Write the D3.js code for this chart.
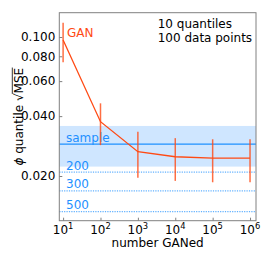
<!DOCTYPE html>
<html>
<head>
<meta charset="utf-8">
<script src="https://cdn.jsdelivr.net/npm/d3@7"></script>
<style>
  html, body { margin: 0; padding: 0; background: #fff; }
  svg { display: block; font-family: "DejaVu Sans", sans-serif; }
</style>
</head>
<body>
<script>
'use strict';

// data
var ganedCounts = [1e1, 1e2, 1e3, 1e4, 1e5, 1e6];
var ganMean = [0.0966, 0.0375, 0.0265, 0.0250, 0.0246, 0.0246];
var ganLow = [0.0746, 0.0286, 0.0196, 0.0189, 0.0186, 0.0186];
var ganHigh = [0.1180, 0.0464, 0.0334, 0.0310, 0.0306, 0.0306];

var sampleValue = 0.0289;
var sampleBand = [0.0223, 0.0357];
var sizeLines = [
  { label: '200', value: 0.0209 },
  { label: '300', value: 0.01683 },
  { label: '500', value: 0.01324 }
];

var yTicks = [0.02, 0.04, 0.06, 0.08, 0.1];
var xTickExp = [1, 2, 3, 4, 5, 6];

var W = 270, H = 270,
    margin = { left: 59.3, top: 12.7, right: 14, bottom: 49.3 },
    orange = '#ff4a14',
    blue = '#1e90ff',
    fs = 12;

var svg = d3.select('body').append('svg')
  .attr('width', W)
  .attr('height', H);

var x = d3.scaleLog()
  .domain([Math.pow(10, 0.8983), Math.pow(10, 6.1594)])
  .range([margin.left, W - margin.right]);

var y = d3.scaleLog()
  .domain([0.01192, 0.1325])
  .range([H - margin.bottom, margin.top]);

var plot = svg.append('g');

// sample band and line
plot.append('rect')
  .attr('x', x.range()[0])
  .attr('width', x.range()[1] - x.range()[0])
  .attr('y', y(sampleBand[1]))
  .attr('height', y(sampleBand[0]) - y(sampleBand[1]))
  .style('fill', '#cfe6ff');

plot.append('line')
  .attr('x1', x.range()[0]).attr('x2', x.range()[1])
  .attr('y1', y(sampleValue)).attr('y2', y(sampleValue))
  .style('stroke', blue)
  .style('stroke-width', 1.2);

plot.append('text')
  .attr('x', 66)
  .attr('y', y(sampleValue) - 2.5)
  .style('font-size', fs + 'px')
  .style('fill', blue)
  .text('sample');

plot.selectAll('.size-line').data(sizeLines).enter().append('line')
  .attr('class', 'size-line')
  .attr('x1', x.range()[0]).attr('x2', x.range()[1])
  .attr('y1', function(d) { return y(d.value); })
  .attr('y2', function(d) { return y(d.value); })
  .style('stroke', blue)
  .style('stroke-opacity', 0.7)
  .style('stroke-width', 1.2)
  .style('stroke-dasharray', '1.2,1.2');

plot.selectAll('.size-label').data(sizeLines).enter().append('text')
  .attr('class', 'size-label')
  .attr('x', 66)
  .attr('y', function(d) { return y(d.value) - 2.5; })
  .style('font-size', fs + 'px')
  .style('fill', blue)
  .text(function(d) { return d.label; });

// GAN curve with error bars
var pts = ganedCounts.map(function(c, i) {
  return { n: c, m: ganMean[i], lo: ganLow[i], hi: ganHigh[i] };
});

plot.append('path')
  .datum(pts)
  .attr('d', d3.line()
    .x(function(d) { return x(d.n); })
    .y(function(d) { return y(d.m); }))
  .style('fill', 'none')
  .style('stroke', orange)
  .style('stroke-width', 1.3);

plot.selectAll('.err').data(pts).enter().append('line')
  .attr('class', 'err')
  .attr('x1', function(d) { return x(d.n); })
  .attr('x2', function(d) { return x(d.n); })
  .attr('y1', function(d) { return y(d.lo); })
  .attr('y2', function(d) { return y(d.hi); })
  .style('stroke', orange)
  .style('stroke-opacity', 0.8)
  .style('stroke-width', 1.5);

plot.append('text')
  .attr('x', 67)
  .attr('y', 37)
  .style('font-size', fs + 'px')
  .style('fill', orange)
  .text('GAN');

// annotations
svg.append('text')
  .attr('x', 157.7).attr('y', 28.3)
  .style('font-size', fs + 'px')
  .text('10 quantiles');
svg.append('text')
  .attr('x', 157.7).attr('y', 41.7)
  .style('font-size', fs + 'px')
  .text('100 data points');

// frame
svg.append('rect')
  .attr('x', x.range()[0])
  .attr('y', y.range()[1])
  .attr('width', x.range()[1] - x.range()[0])
  .attr('height', y.range()[0] - y.range()[1])
  .style('fill', 'none')
  .style('stroke', '#808080')
  .style('stroke-width', 1);

// y axis
var yAxis = svg.append('g')
  .attr('transform', 'translate(' + x.range()[0] + ',0)')
  .call(d3.axisLeft(y).tickValues(yTicks).tickFormat(d3.format('.3f')).tickSize(-3).tickPadding(4));
yAxis.select('.domain').remove();
yAxis.selectAll('.tick line').style('stroke', '#808080');
yAxis.selectAll('.tick text')
  .style('font-family', '"DejaVu Sans", sans-serif')
  .style('font-size', fs + 'px')
  .style('fill', '#000');

// x axis
var xAxis = svg.append('g')
  .attr('transform', 'translate(0,' + y.range()[0] + ')')
  .call(d3.axisBottom(x).tickValues(xTickExp.map(function(e) { return Math.pow(10, e); }))
    .tickFormat('').tickSize(-3));
xAxis.select('.domain').remove();
xAxis.selectAll('.tick line').style('stroke', '#808080');

var xLabels = svg.selectAll('.xlab').data(xTickExp).enter().append('text')
  .attr('class', 'xlab')
  .attr('x', function(e) { return x(Math.pow(10, e)); })
  .attr('y', 234)
  .attr('text-anchor', 'middle')
  .style('font-size', fs + 'px');
xLabels.append('tspan').text('10');
xLabels.append('tspan')
  .attr('dy', -5)
  .style('font-size', '8.4px')
  .text(function(e) { return e; });

svg.append('text')
  .attr('x', (x.range()[0] + x.range()[1]) / 2)
  .attr('y', 247)
  .attr('text-anchor', 'middle')
  .style('font-size', fs + 'px')
  .text('number GANed');

// y label with square root
var ylab = svg.append('text')
  .attr('transform', 'translate(23,' + ((y.range()[0] + y.range()[1]) / 2) + ') rotate(-90)')
  .attr('text-anchor', 'middle')
  .style('font-size', fs + 'px');
ylab.append('tspan').style('font-style', 'italic').text('\u03d5');
ylab.append('tspan').text(' quantile \u221a');
var mse = ylab.append('tspan').text('MSE');

var bb = mse.node().getBBox();
var start = mse.node().getStartPositionOfChar(0);
var end = mse.node().getEndPositionOfChar(2);
svg.append('line')
  .attr('transform', ylab.attr('transform'))
  .attr('x1', start.x - 0.5).attr('x2', end.x + 0.3)
  .attr('y1', bb.y + 0.3).attr('y2', bb.y + 0.3)
  .style('stroke', '#000')
  .style('stroke-width', 0.8);
</script>
</body>
</html>
